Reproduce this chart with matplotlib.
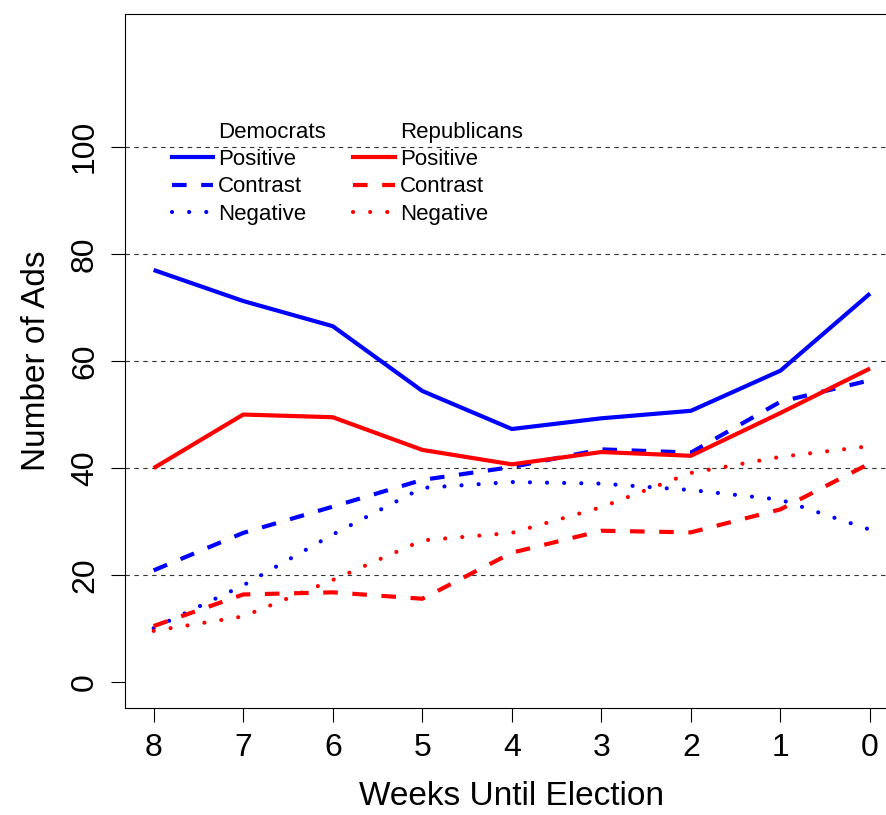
import numpy as np
import matplotlib
matplotlib.use("Agg")
import matplotlib.pyplot as plt
from matplotlib.lines import Line2D

plt.rcParams['font.family'] = ['Liberation Sans', 'DejaVu Sans']

# Weeks until election
weeks = [8, 7, 6, 5, 4, 3, 2, 1, 0]

dem_positive = [77.0, 71.2, 66.5, 54.4, 47.3, 49.3, 50.7, 58.2, 72.6]
dem_contrast = [20.9, 27.9, 32.8, 37.8, 40.2, 43.5, 42.9, 52.4, 56.4]
dem_negative = [10.1, 18.1, 27.6, 36.3, 37.4, 37.1, 35.9, 34.1, 28.5]

rep_positive = [40.0, 50.0, 49.5, 43.4, 40.7, 43.0, 42.3, 50.3, 58.6]
rep_contrast = [10.5, 16.4, 16.8, 15.6, 24.2, 28.3, 28.0, 32.3, 40.9]
rep_negative = [9.6, 12.3, 19.1, 26.5, 27.9, 32.7, 39.1, 42.1, 44.1]

y_ticks = [0, 20, 40, 60, 80, 100]
grid_levels = [20, 40, 60, 80, 100]

dashed = (0, (3.5, 3.5))
dotted = (0, (0.01, 4.1))

fig = plt.figure(figsize=(8.86, 8.15), dpi=100)
# right side of the box is cut off in the original
ax = fig.add_axes([125 / 886, 1 - 708 / 815, (898.7 - 125) / 886, (708 - 14) / 815])

for lev in grid_levels:
    ax.axhline(lev, color="#333333", lw=0.8, ls=(0, (4, 4)), zorder=1)

ax.plot(weeks, dem_positive, color="blue", lw=3, ls="-", solid_capstyle="butt")
ax.plot(weeks, dem_contrast, color="blue", lw=3, ls=dashed, dash_capstyle="butt")
ax.plot(weeks, dem_negative, color="blue", lw=3, ls=dotted, dash_capstyle="round")
ax.plot(weeks, rep_positive, color="red", lw=3, ls="-", solid_capstyle="butt")
ax.plot(weeks, rep_contrast, color="red", lw=3, ls=dashed, dash_capstyle="butt")
ax.plot(weeks, rep_negative, color="red", lw=3, ls=dotted, dash_capstyle="round")

ax.set_xlim(8.32, -0.32)
ax.set_ylim(-4.8, 124.8)
ax.set_xticks(weeks)
ax.set_yticks(y_ticks)
ax.set_yticklabels([str(t) for t in y_ticks], rotation=90, va="center")
ax.tick_params(axis="both", direction="out", length=10, width=0.8,
               labelsize=23, pad=8)
for sp in ax.spines.values():
    sp.set_linewidth(0.8)
ax.spines["right"].set_visible(False)

ax.set_xlabel("Weeks Until Election", fontsize=24, labelpad=13)
ax.set_ylabel("Number of Ads", fontsize=24, labelpad=13)

# legend: two columns, party name on top of each
blank = Line2D([], [], color="none")
handles = [blank,
           Line2D([], [], color="blue", lw=3, ls="-"),
           Line2D([], [], color="blue", lw=3, ls=dashed),
           Line2D([], [], color="blue", lw=3, ls=dotted, dash_capstyle="round"),
           blank,
           Line2D([], [], color="red", lw=3, ls="-"),
           Line2D([], [], color="red", lw=3, ls=dashed),
           Line2D([], [], color="red", lw=3, ls=dotted, dash_capstyle="round")]
labels = ["Democrats", "Positive", "Contrast", "Negative",
          "Republicans", "Positive", "Contrast", "Negative"]
leg = ax.legend(handles, labels, ncol=2, frameon=False, fontsize=16,
                handlelength=1.87, handletextpad=0.22, columnspacing=1.25,
                labelspacing=0.28, borderpad=0, borderaxespad=0,
                loc="upper left",
                bbox_to_anchor=((171.5 - 125) / (898.7 - 125), (708 - 122) / (708 - 14)))

fig.savefig("out.png", dpi=100)
